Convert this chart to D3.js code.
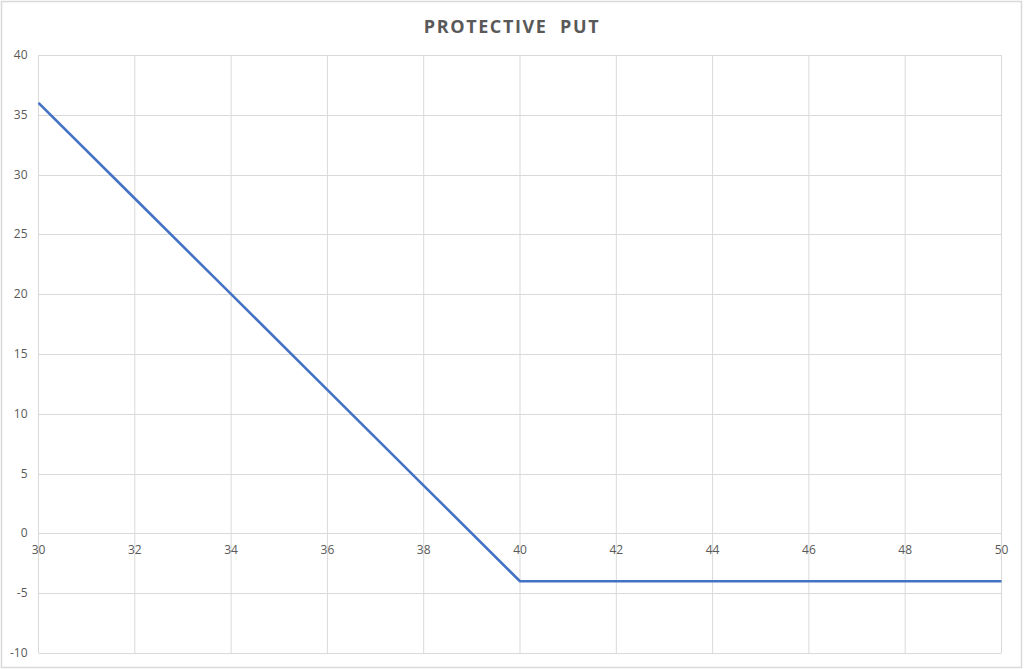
<!DOCTYPE html>
<html>
<head>
<meta charset="utf-8">
<script src="https://cdn.jsdelivr.net/npm/d3@7"></script>
<style>
  body { margin: 0; background: #fff; }
  svg { display: block; }
</style>
</head>
<body>
<svg id="chart" width="1024" height="669"></svg>
<script>
// stock price at expiry and profit of the protective put
const prices = [30, 32, 34, 36, 38, 40, 42, 44, 46, 48, 50];
const profit = [36, 28, 20, 12, 4, -4, -4, -4, -4, -4, -4];
const xTicks = [30, 32, 34, 36, 38, 40, 42, 44, 46, 48, 50];
const yTicks = [-10, -5, 0, 5, 10, 15, 20, 25, 30, 35, 40];
const title = "PROTECTIVE  PUT";

const margin = { top: 55, right: 22.5, bottom: 16, left: 38.5 };
const W = 1024, H = 669;
const width = W - margin.left - margin.right;
const height = H - margin.top - margin.bottom;

const svg = d3.select("#chart");

// outer chart border
svg.append("rect")
  .attr("x", 1.5).attr("y", 1.5)
  .attr("width", W - 4).attr("height", H - 3)
  .attr("fill", "#fff")
  .attr("stroke", "#d9d9d9")
  .attr("stroke-width", 1.5);

svg.append("text")
  .attr("x", 512)
  .attr("y", 33)
  .attr("text-anchor", "middle")
  .attr("font-family", "'Open Sans', sans-serif")
  .attr("font-weight", 700)
  .attr("font-size", "18px")
  .attr("letter-spacing", "1.6px")
  .attr("fill", "#595959")
  .style("white-space", "pre")
  .text(title);

const x = d3.scaleLinear().domain([30, 50]).range([0, width]);
const y = d3.scaleLinear().domain([-10, 40]).range([height, 0]);

const g = svg.append("g").attr("transform", `translate(${margin.left},${margin.top})`);

// gridlines
g.append("g")
  .selectAll("line")
  .data(yTicks)
  .enter().append("line")
  .attr("x1", 0).attr("x2", width)
  .attr("y1", d => Math.round(y(d)) + 0.5).attr("y2", d => Math.round(y(d)) + 0.5)
  .attr("stroke", "#d9d9d9");

g.append("g")
  .selectAll("line")
  .data(xTicks)
  .enter().append("line")
  .attr("x1", d => x(d)).attr("x2", d => x(d))
  .attr("y1", 0).attr("y2", height)
  .attr("stroke", "#d9d9d9");

// y labels
g.append("g")
  .selectAll("text")
  .data(yTicks)
  .enter().append("text")
  .attr("x", -11)
  .attr("y", d => y(d) + 4)
  .attr("text-anchor", "end")
  .attr("font-family", "'Open Sans', sans-serif")
  .attr("font-size", "12px")
  .attr("fill", "#595959")
  .text(d => d);

// x labels sit just under the zero line
g.append("g")
  .selectAll("text")
  .data(xTicks)
  .enter().append("text")
  .attr("x", d => x(d))
  .attr("y", y(0) + 21)
  .attr("text-anchor", "middle")
  .attr("font-family", "'Open Sans', sans-serif")
  .attr("font-size", "12px")
  .attr("fill", "#595959")
  .text(d => d);

const line = d3.line()
  .x((d, i) => x(prices[i]))
  .y(d => y(d));

g.append("path")
  .datum(profit)
  .attr("fill", "none")
  .attr("stroke", "#4472c4")
  .attr("stroke-width", 2.6)
  .attr("stroke-linejoin", "round")
  .attr("d", line);
</script>
</body>
</html>
